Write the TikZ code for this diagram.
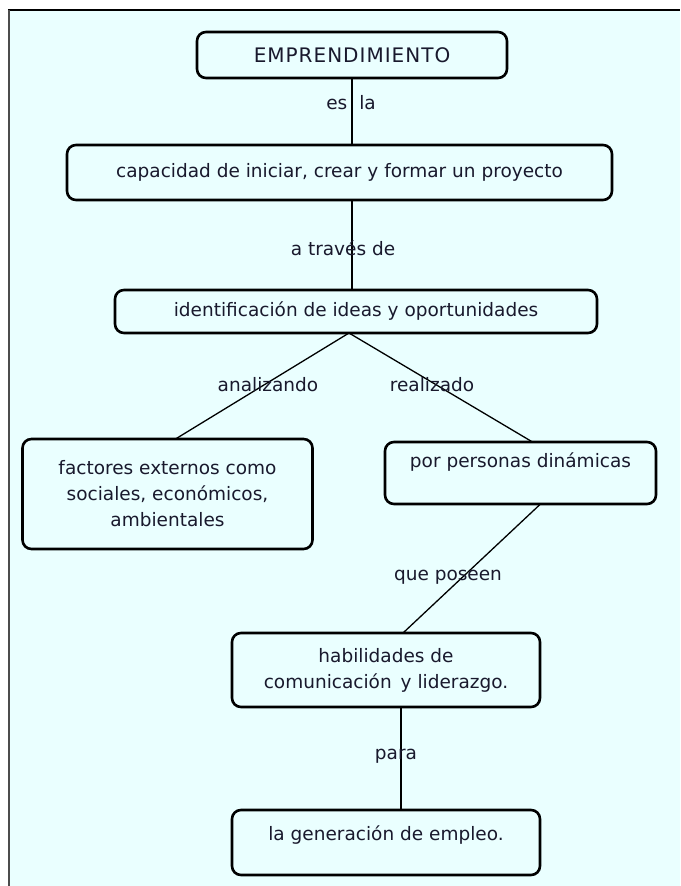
\documentclass[tikz,border=0pt]{standalone}
\usepackage{fontspec}
\setmainfont{DejaVu Sans}
\usetikzlibrary{calc}
\definecolor{bgcyan}{RGB}{234,255,255}
\definecolor{txt}{RGB}{25,25,45}
\tikzset{
  box/.style={draw=black, line width=2.6pt, rounded corners=9pt, fill=none,
    inner sep=0pt, outer sep=0pt, align=center, text=txt,
    font=\fontsize{18.5}{26}\selectfont},
  lbl/.style={inner sep=0pt, text=txt, font=\fontsize{18.5}{22}\selectfont},
  conn/.style={draw=black, line width=1.3pt}
}
\begin{document}
\begin{tikzpicture}[x=1pt,y=-1pt]
\useasboundingbox (0,0) rectangle (680,886);
\fill[white] (0,0) rectangle (680,886);
\fill[bgcyan] (9,10) rectangle (680,886);
\draw[line width=1.5pt, black] (8,10) -- (680,10);
\draw[line width=1.5pt, black!70] (9,10) -- (9,886);

\node[box, minimum width=310pt, minimum height=46pt] (emp) at (352,55) {\fontsize{20}{24}\selectfont\addfontfeatures{LetterSpace=5}EMPRENDIMIENTO};
\node[box, minimum width=545pt, minimum height=55pt] (cap) at (339.5,172.5) {capacidad de iniciar, crear y formar un proyecto};
\node[box, minimum width=482pt, minimum height=43pt] (ident) at (356,311.5) {identificación de ideas y oportunidades};
\node[box, minimum width=290pt, minimum height=110pt] (fact) at (167.5,494) {factores externos como\\sociales, económicos,\\ambientales};
\node[box, minimum width=271pt, minimum height=62pt] (por) at (520.5,473) {por personas dinámicas\\\mbox{}};
\node[box, minimum width=308pt, minimum height=74pt] (habil) at (386,670) {habilidades de\\comunicación\, y liderazgo.};
\node[box, minimum width=308pt, minimum height=65pt] (gen) at (386,842.5) {la generación de empleo.\\[-8pt]\mbox{}};

\coordinate (identtop) at ($(ident.south)+(-7,0)$);
\coordinate (habbot) at ($(habil.south)+(15,0)$);

\draw[conn] (emp.south) -- (emp.south |- cap.north);
\draw[conn] (emp.south |- cap.south) -- (emp.south |- ident.north);
\draw[conn] (identtop) -- ($(fact.north)+(8,0)$);
\draw[conn] (identtop) -- ($(por.north)+(12,0)$);
\draw[conn] ($(por.south)+(20,0)$) -- ($(habil.north)+(17,0)$);
\draw[conn] (habbot) -- (habbot |- gen.north);

\node[lbl] (l1) at (351,103) {es\hspace{12pt}la};
\node[lbl] (l2) at (343,248) {a través de};
\node[lbl] (l3) at (268,385) {analizando};
\node[lbl] (l4) at (432,385) {realizado};
\node[lbl] (l5) at (448,577) {que poseen};
\node[lbl] (l6) at (396,756) {para};
\end{tikzpicture}
\end{document}
